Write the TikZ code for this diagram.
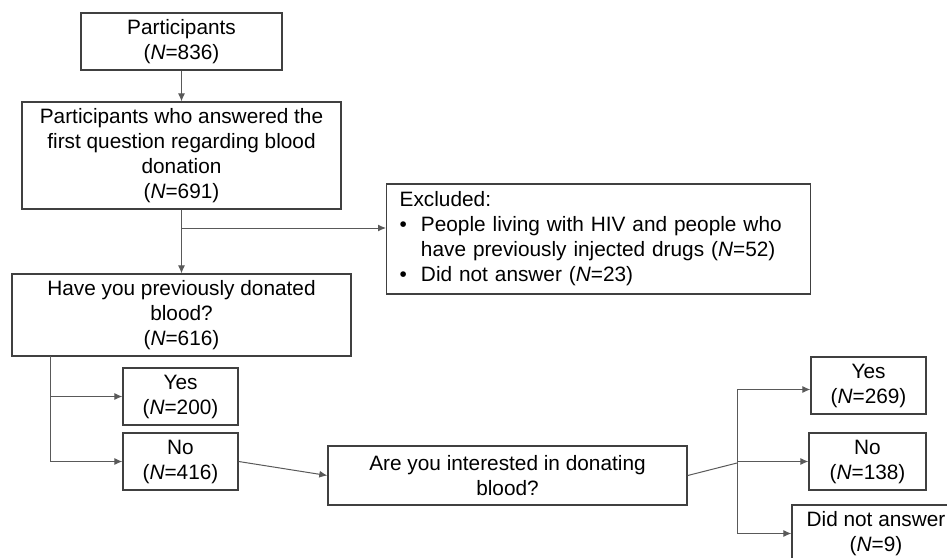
\documentclass[tikz,border=0pt]{standalone}
\usepackage{fontspec}
\setmainfont{Liberation Sans}
\usepackage{tikz}
\usetikzlibrary{arrows.meta}

\begin{document}
\begin{tikzpicture}[x=0.5pt, y=-0.5pt,
    every node/.style={font=\fontsize{10.4}{12.5}\selectfont},
    box/.style={draw=black!75, line width=0.7pt, align=center, inner sep=0pt},
    link/.style={draw=black!65, line width=0.5pt, -{Latex[length=4pt,width=3.5pt]}}]
    \useasboundingbox (0,0) rectangle (947,557);
    \clip (0,0) rectangle (947,557);
    \node [box, minimum width=100.5pt, minimum height=28.5pt] (part) at (181.5, 41.5) {Participants\\(\textit{N}=836)};
    \node [box, minimum width=159.5pt, minimum height=53.5pt] (answ) at (181.5, 155.5) {Participants who answered the\\first question regarding blood\\donation\\(\textit{N}=691)};
    \node [box, anchor=west, text width=199pt, inner xsep=6.5pt, minimum height=55pt, align=left] (excl) at (386, 239) {%
      \begin{tabular}{@{}l@{\hspace{7pt}}l@{}}
        \multicolumn{2}{@{}l}{Excluded:}\\
        \textbullet & People living with HIV and people who\\
                    & have previously injected drugs (\textit{N}=52)\\
        \textbullet & Did not answer (\textit{N}=23)
      \end{tabular}};
    \node [box, minimum width=169.5pt, minimum height=41pt] (prev) at (181.5, 315) {Have you previously donated\\blood?\\(\textit{N}=616)};
    \node [box, minimum width=57.5pt, minimum height=28.5pt] (yes1) at (180.5, 396.5) {Yes\\(\textit{N}=200)};
    \node [box, minimum width=57.5pt, minimum height=28.5pt] (no1) at (180.5, 461.5) {No\\(\textit{N}=416)};
    \node [box, minimum width=179.5pt, minimum height=29.5pt] (intr) at (507.5, 475.5) {Are you interested in donating\\blood?};
    \node [box, minimum width=57.5pt, minimum height=28.5pt] (yes2) at (868.5, 385.5) {Yes\\(\textit{N}=269)};
    \node [box, minimum width=58.5pt, minimum height=28.5pt] (no2) at (867.5, 461.5) {No\\(\textit{N}=138)};
    \node [box, minimum width=84pt, minimum height=28.5pt] (dna) at (876, 533.5) {Did not answer\\(\textit{N}=9)};
    \coordinate (j1) at (181.5, 228);
    \coordinate (b1) at (50, 356);
    \coordinate (b2) at (737, 463);
    \draw [link] (part) to (answ);
    \draw [link] (answ) to (prev);
    \draw [link] (j1) to (j1 -| excl.west);
    \draw [link] (b1) |- (yes1);
    \draw [link] (b1) |- (no1);
    \draw [link] (no1.east) to (intr.west);
    \draw [draw=black!65, line width=0.5pt] (intr.east) to (b2);
    \draw [link] (b2) |- ([yshift=-2pt]yes2.west);
    \draw [link] (b2) |- (no2);
    \draw [link] (b2) |- (dna);
  \end{tikzpicture}
\end{document}
